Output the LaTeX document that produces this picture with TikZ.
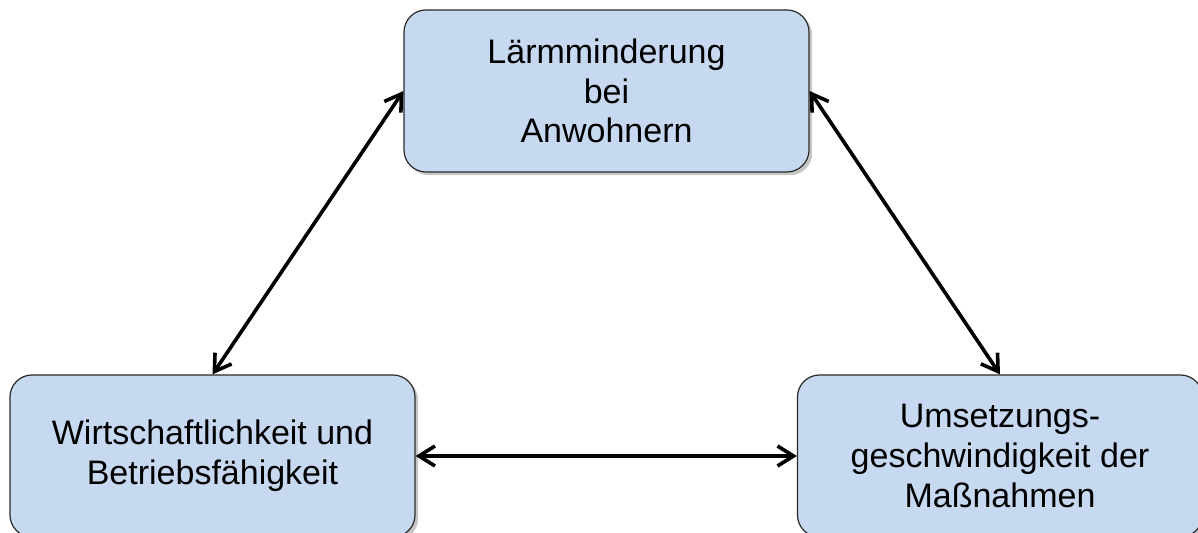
\documentclass[tikz,border=0pt]{standalone}
\usepackage{fontspec}
\setmainfont{Liberation Sans}
\usepackage{tikz}
\usetikzlibrary{arrows.meta, positioning, shadows}
\definecolor{boxblue}{HTML}{C6D9F1}
\definecolor{boxline}{HTML}{2A2A2A}

\begin{document}
\begin{tikzpicture}[
    x=0.5pt, y=-0.5pt,
    goal/.style={rectangle, rounded corners=11pt, draw=boxline, line width=0.6pt, fill=boxblue, minimum width=202.5pt, minimum height=81pt, align=center, font=\fontsize{17}{19.8}\selectfont, drop shadow={shadow xshift=1.6pt, shadow yshift=-1.6pt, opacity=0.45}},
    arrow/.style={{Straight Barb[length=8pt, width=10pt]}-{Straight Barb[length=8pt, width=10pt]}, line width=1.8pt, black}
]
\useasboundingbox (0,0) rectangle (1198,533);

\node[goal] (laerm) at (606.5,91) {Lärmminderung\\bei\\Anwohnern};
\node[goal] (wirt) at (212.5,456) {Wirtschaftlichkeit und\\Betriebsfähigkeit};
\node[goal] (umsetz) at (1000,456) {Umsetzungs-\\geschwindigkeit der\\Maßnahmen};

\draw[arrow] (wirt.north) -- (laerm.west);
\draw[arrow] (laerm.east) -- (umsetz.north);
\draw[arrow] (wirt.east) -- (umsetz.west);

\end{tikzpicture}
\end{document}
